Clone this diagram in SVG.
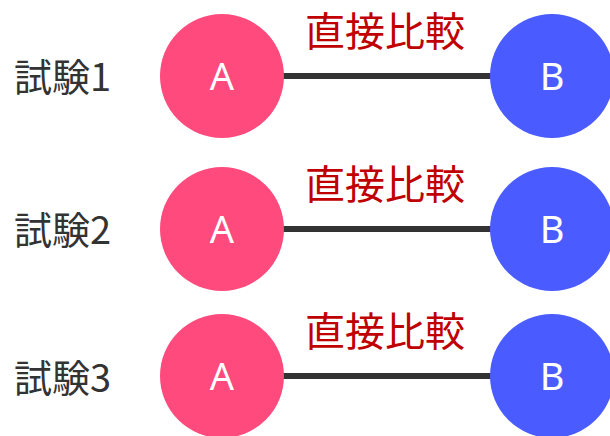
<svg xmlns="http://www.w3.org/2000/svg" width="610" height="436" viewBox="0 0 610 436">
<style>
.lbl{font-family:"Noto Sans CJK JP","Noto Sans",sans-serif;font-size:38px;fill:#333333}
.cmp{font-family:"Noto Sans CJK JP",sans-serif;font-size:40px;fill:#c00000;text-anchor:middle}
.nt{font-family:"Noto Sans","Liberation Sans",sans-serif;font-size:38px;fill:#ffffff;text-anchor:middle}
.a{fill:#ff4a7d}
.b{fill:#4a5cff}
.edge{stroke:#333333;stroke-width:6;fill:none}
</style>
<rect width="610" height="436" fill="#ffffff"/>
<g id="connectors">
<line class="edge" x1="282" y1="76" x2="492" y2="76"/>
<line class="edge" x1="282" y1="229" x2="492" y2="229"/>
<line class="edge" x1="282" y1="376" x2="492" y2="376"/>
</g>
<g id="labels">
<text class="lbl" x="14" y="91">試験1</text>
<text class="lbl" x="14" y="244">試験2</text>
<text class="lbl" x="14" y="392">試験3</text>
<text class="cmp" x="385" y="46">直接比較</text>
<text class="cmp" x="385" y="199">直接比較</text>
<text class="cmp" x="385" y="346">直接比較</text>
</g>
<g id="A1"><circle class="a" cx="222" cy="76" r="62"/><text class="nt" x="222" y="90">A</text></g>
<g id="B1"><circle class="b" cx="552" cy="76" r="62"/><text class="nt" x="552" y="90">B</text></g>
<g id="A2"><circle class="a" cx="222" cy="229" r="62"/><text class="nt" x="222" y="243">A</text></g>
<g id="B2"><circle class="b" cx="552" cy="229" r="62"/><text class="nt" x="552" y="243">B</text></g>
<g id="A3"><circle class="a" cx="222" cy="376" r="62"/><text class="nt" x="222" y="390">A</text></g>
<g id="B3"><circle class="b" cx="552" cy="376" r="62"/><text class="nt" x="552" y="390">B</text></g>
</svg>
